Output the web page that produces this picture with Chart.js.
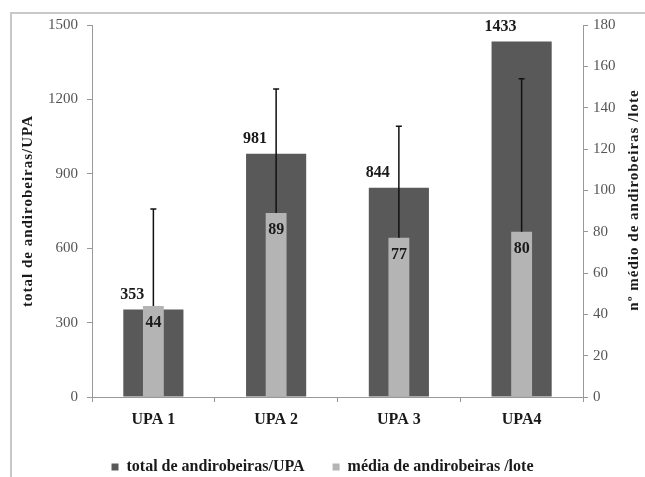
<!DOCTYPE html>
<html>
<head>
<meta charset="utf-8">
<script src="https://cdn.jsdelivr.net/npm/chart.js@4/dist/chart.umd.min.js"></script>
<style>
  html, body { margin: 0; padding: 0; background: #fff; }
  #wrap { position: relative; width: 645px; height: 477px; }
  #frame { position: absolute; left: 10px; top: 12px; right: 0; bottom: -5px;
           border-left: 2px solid #c8c8c8; border-top: 2px solid #c8c8c8; }
</style>
</head>
<body>
<div id="wrap">
  <canvas id="chart" width="645" height="477"></canvas>
  <div id="frame"></div>
</div>
<script>
// ======================
// Dados do gráfico
// ======================
const categories = ["UPA 1", "UPA 2", "UPA 3", "UPA4"];
const totalPerUPA = [353, 981, 844, 1433];
const meanPerLot = [44, 89, 77, 80];
const meanErrorUp = [47, 60, 54, 74];

const serif = "'Liberation Serif', 'DejaVu Serif', serif";

// ========== Títulos dos eixos, rótulos e barras de erro ==========
const extras = {
    id: "extras",
    afterDatasetsDraw(chart) {
        const ctx = chart.ctx;
        const area = chart.chartArea;
        const yRight = chart.scales.y1;
        ctx.save();

        // barras de erro (só para cima) na média
        ctx.strokeStyle = "#111";
        ctx.lineWidth = 1.5;
        chart.getDatasetMeta(1).data.forEach((bar, i) => {
            const yTop = yRight.getPixelForValue(meanPerLot[i] + meanErrorUp[i]);
            ctx.beginPath();
            ctx.moveTo(bar.x, bar.y);
            ctx.lineTo(bar.x, yTop);
            ctx.moveTo(bar.x - 3, yTop);
            ctx.lineTo(bar.x + 3, yTop);
            ctx.stroke();
        });

        // rótulos de valor
        ctx.fillStyle = "#1a1a1a";
        ctx.font = "bold 16px " + serif;
        ctx.textAlign = "center";
        ctx.textBaseline = "middle";
        chart.getDatasetMeta(0).data.forEach((bar, i) => {
            ctx.fillText(totalPerUPA[i], bar.x - bar.width / 2 + 9, bar.y - 15);
        });
        chart.getDatasetMeta(1).data.forEach((bar, i) => {
            ctx.fillText(meanPerLot[i], bar.x, bar.y + 17);
        });

        // títulos dos eixos
        const midY = (area.top + area.bottom) / 2;
        ctx.font = "bold 15px " + serif;
        ctx.letterSpacing = "1px";
        ctx.translate(28, midY);
        ctx.rotate(-Math.PI / 2);
        ctx.fillText("total de andirobeiras/UPA", 0, 0);
        ctx.setTransform(1, 0, 0, 1, 0, 0);
        ctx.translate(634, midY - 11);
        ctx.rotate(-Math.PI / 2);
        ctx.fillText("nº médio de andirobeiras /lote", 0, 0);
        ctx.restore();
    }
};

const tickFont = { family: serif, size: 15 };
const axisGrid = { drawOnChartArea: false, drawTicks: true, tickLength: 5, color: "#999" };

new Chart(document.getElementById("chart"), {
    type: "bar",
    data: {
        labels: categories,
        datasets: [{
            label: "total de andirobeiras/UPA",
            data: totalPerUPA,
            yAxisID: "y",
            backgroundColor: "#595959",
            grouped: false,
            categoryPercentage: 1,
            barPercentage: 0.49,
            order: 1
        }, {
            label: "média de andirobeiras /lote",
            data: meanPerLot,
            yAxisID: "y1",
            backgroundColor: "#b4b4b4",
            grouped: false,
            categoryPercentage: 1,
            barPercentage: 0.17,
            order: 0
        }]
    },
    options: {
        responsive: false,
        animation: false,
        layout: { padding: { top: 25, left: 0, right: 0, bottom: -8 } },
        plugins: {
            tooltip: { enabled: false },
            legend: {
                position: "bottom",
                reverse: true,
                labels: {
                    boxWidth: 7,
                    boxHeight: 7,
                    padding: 28,
                    color: "#1a1a1a",
                    font: { family: serif, size: 16, weight: "bold" }
                }
            }
        },
        scales: {
            x: {
                grid: { ...axisGrid, offset: true },
                border: { color: "#999" },
                ticks: { color: "#1a1a1a", padding: 8, font: { family: serif, size: 16, weight: "bold" } },
                afterFit: s => { s.height = 34; }
            },
            y: {
                position: "left",
                min: 0,
                max: 1500,
                grid: axisGrid,
                border: { color: "#999" },
                ticks: { stepSize: 300, color: "#555", padding: 9, font: tickFont, callback: v => v },
                afterFit: s => { s.width = 92; }
            },
            y1: {
                position: "right",
                min: 0,
                max: 180,
                grid: axisGrid,
                border: { color: "#999" },
                ticks: { stepSize: 20, color: "#555", padding: 5, font: tickFont, callback: v => v },
                afterFit: s => { s.width = 62; }
            }
        }
    },
    plugins: [extras]
});
</script>
</body>
</html>
